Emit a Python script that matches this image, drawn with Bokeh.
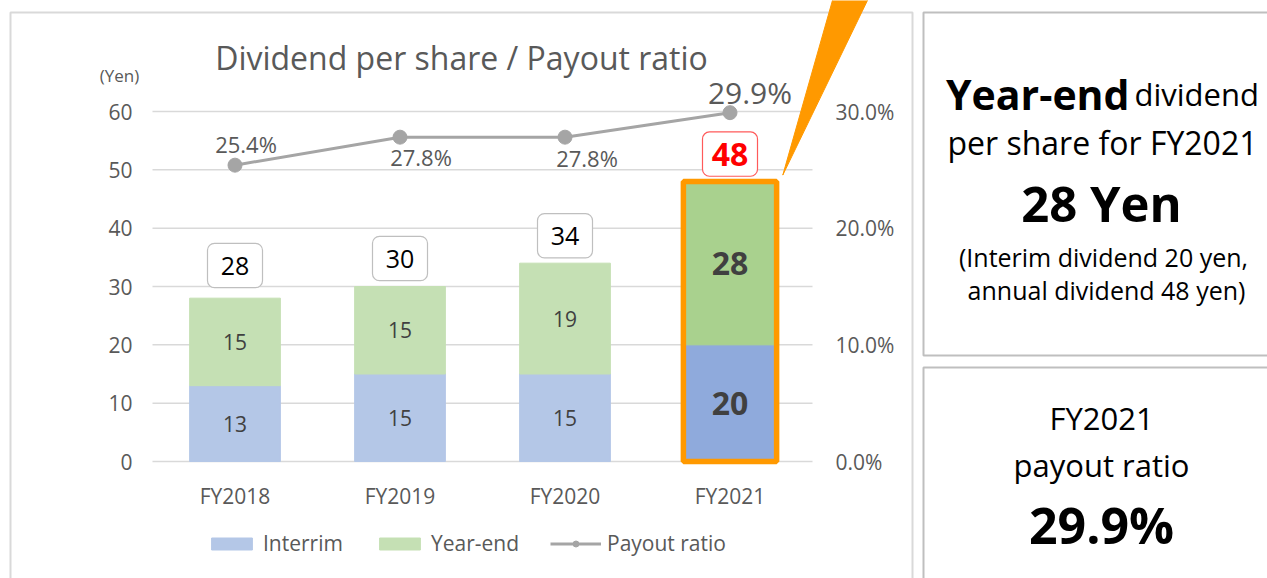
from bokeh.plotting import figure
from bokeh.models import (Range1d, LinearAxis, FixedTicker, NumeralTickFormatter,
                          Legend, LegendItem, ColumnDataSource)
from bokeh.core.properties import value
from bokeh.embed import file_html
from bokeh.resources import INLINE

# ---------------- data ----------------
years = ["FY2018", "FY2019", "FY2020", "FY2021"]
interim = [13, 15, 15, 20]
year_end = [15, 15, 19, 28]
payout_ratio = [25.4, 27.8, 27.8, 29.9]
yen_ticks = [0, 10, 20, 30, 40, 50, 60]
pct_ticks = [0, 10, 20, 30]
highlight = 3  # FY2021

# ---------------- styles ----------------
FONT = "Open Sans"
GRAY_TXT = "#595959"
DARK_TXT = "#404040"
ORANGE = "#FF9900"
interim_colors = ["#B4C7E7", "#B4C7E7", "#B4C7E7", "#8FAADC"]
yearend_colors = ["#C5E0B4", "#C5E0B4", "#C5E0B4", "#A9D18E"]
inner_sizes = ["21px", "21px", "21px", "32px"]
inner_styles = ["normal", "normal", "normal", "bold"]
box_line_colors = ["#BFBFBF", "#BFBFBF", "#BFBFBF", "#FF5A5A"]
box_text_colors = ["#000000", "#000000", "#000000", "#FF0000"]
box_text_sizes = ["25px", "25px", "25px", "32px"]
box_text_styles = ["normal", "normal", "normal", "bold"]
box_gap = [1.8, 1.0, 0.9, 0.9]
pct_label_dx = [11, 21, 22, 20]
pct_label_dy = [-21, 20, 21, -20]
pct_label_sizes = ["22px", "22px", "22px", "30px"]

W, H = 1267, 578
X0_PX, STEP_PX = 234.5, 165.0          # centre of first category, category step
Y0_PX, PX_PER_YEN = 461.0, 350.0 / 60  # baseline, scale

x_range = Range1d(-X0_PX / STEP_PX, (W - X0_PX) / STEP_PX)
y_range = Range1d(-(H - Y0_PX) / PX_PER_YEN, Y0_PX / PX_PER_YEN)

p = figure(width=W, height=H, x_range=x_range, y_range=y_range,
           output_backend="svg", toolbar_location=None,
           x_axis_location=None, y_axis_location=None,
           min_border=0, min_border_left=0, min_border_right=0,
           min_border_top=0, min_border_bottom=0,
           outline_line_color=None, background_fill_color="white",
           border_fill_color="white")
p.xgrid.grid_line_color = None
p.ygrid.grid_line_color = None
p.extra_x_ranges = {"px": Range1d(0, W)}
p.extra_y_ranges = {"px": Range1d(H, 0),
                    "pct": Range1d(y_range.start / 200.0, y_range.end / 200.0)}

PX = dict(x_range_name="px", y_range_name="px")

# panel frames
p.quad(left=[10], right=[912], top=[12], bottom=[600], fill_color="white",
       line_color="#D9D9D9", line_width=2, **PX)
p.quad(left=[923, 923], right=[1285, 1285], top=[12, 367], bottom=[355, 600],
       fill_color="white", line_color="#BFBFBF", line_width=2, **PX)

# gridlines from the tick list
n = len(years)
p.segment(x0=[-0.5] * len(yen_ticks), x1=[n - 0.5] * len(yen_ticks),
          y0=yen_ticks, y1=yen_ticks, line_color="#D9D9D9", line_width=1.5)

xs = list(range(n))
totals = [a + b for a, b in zip(interim, year_end)]
src = ColumnDataSource(dict(
    x=xs, interim=interim, year_end=year_end, total=totals,
    int_mid=[a / 2 for a in interim],
    ye_mid=[a + b / 2 for a, b in zip(interim, year_end)],
    int_txt=[str(v) for v in interim], ye_txt=[str(v) for v in year_end],
    tot_txt=[str(v) for v in totals],
    box_l=[v - 0.1667 for v in xs], box_r=[v + 0.1667 for v in xs],
    box_b=[t + g for t, g in zip(totals, box_gap)],
    box_t=[t + g + 7.6 for t, g in zip(totals, box_gap)],
    box_mid=[t + g + 3.8 for t, g in zip(totals, box_gap)],
    int_c=interim_colors, ye_c=yearend_colors,
    in_size=inner_sizes, in_style=inner_styles,
    bl_c=box_line_colors, bt_c=box_text_colors,
    bt_size=box_text_sizes, bt_style=box_text_styles,
))

BAR_W = 0.55
r_int = p.vbar(x="x", width=BAR_W, bottom=0, top="interim", source=src,
               fill_color="int_c", line_color="int_c")
r_ye = p.vbar(x="x", width=BAR_W, bottom="interim", top="total", source=src,
              fill_color="ye_c", line_color="ye_c")

# highlight outline on FY2021
p.vbar(x=[xs[highlight]], width=0.565, bottom=0, top=[totals[highlight]],
       fill_color=None, line_color=ORANGE, line_width=5.5)

# values inside bars
p.text(x="x", y="int_mid", text="int_txt", source=src, text_align="center",
       text_baseline="middle", text_font=value(FONT), text_font_size="in_size",
       text_font_style="in_style", text_color=DARK_TXT)
p.text(x="x", y="ye_mid", text="ye_txt", source=src, text_align="center",
       text_baseline="middle", text_font=value(FONT), text_font_size="in_size",
       text_font_style="in_style", text_color=DARK_TXT)

# total boxes
p.quad(left="box_l", right="box_r", bottom="box_b", top="box_t", source=src,
       fill_color="white", line_color="bl_c", line_width=1.2, border_radius=7)
p.text(x="x", y="box_mid", text="tot_txt", source=src, text_align="center",
       text_baseline="middle", text_font=value(FONT), text_font_size="bt_size",
       text_font_style="bt_style", text_color="bt_c")

# payout ratio line
pct_src = ColumnDataSource(dict(
    x=xs, y=[v / 100.0 for v in payout_ratio],
    txt=["%.1f%%" % v for v in payout_ratio],
    dx=pct_label_dx, dy=pct_label_dy, sz=pct_label_sizes))
r_line = p.line(x="x", y="y", source=pct_src, y_range_name="pct",
                line_color="#A5A5A5", line_width=3)
r_pts = p.scatter(x="x", y="y", source=pct_src, y_range_name="pct", size=14,
                  fill_color="#A5A5A5", line_color="#A5A5A5")
p.text(x="x", y="y", text="txt", source=pct_src, y_range_name="pct",
       x_offset="dx", y_offset="dy", text_align="center", text_baseline="middle",
       text_font=value(FONT), text_font_size="sz", text_color=GRAY_TXT)

# callout wedge anchored to the highlighted bar
hx = xs[highlight]
p.patch(x=[hx + 0.32, hx + 0.631, hx + 0.85],
        y=[totals[highlight] + 1.1, y_range.end + 1, y_range.end + 1],
        fill_color=ORANGE, line_color=ORANGE)

# axes
def style_axis(ax, standoff):
    ax.axis_line_color = None
    ax.major_tick_line_color = None
    ax.minor_tick_line_color = None
    ax.major_tick_in = 0
    ax.major_tick_out = 0
    ax.major_label_standoff = standoff
    ax.major_label_text_font = FONT
    ax.major_label_text_font_size = "21px"
    ax.major_label_text_color = GRAY_TXT

yax = LinearAxis(fixed_location=-0.5, ticker=FixedTicker(ticks=yen_ticks))
style_axis(yax, 20)
p.add_layout(yax, "left")

rax = LinearAxis(fixed_location=n - 0.5, y_range_name="pct",
                 ticker=FixedTicker(ticks=[t / 100.0 for t in pct_ticks]),
                 formatter=NumeralTickFormatter(format="0.0%"))
style_axis(rax, 23)
p.add_layout(rax, "right")

xax = LinearAxis(fixed_location=0, ticker=FixedTicker(ticks=xs),
                 major_label_overrides={i: y for i, y in enumerate(years)})
style_axis(xax, 20)
p.add_layout(xax, "below")

# titles
p.text(x=[461], y=[57], text=["Dividend per share / Payout ratio"],
       text_align="center", text_baseline="middle", text_font=value(FONT),
       text_font_size="32px", text_color=GRAY_TXT, **PX)
p.text(x=[119], y=[75], text=["(Yen)"], text_align="center",
       text_baseline="middle", text_font=value(FONT), text_font_size="17px",
       text_color=GRAY_TXT, **PX)

# legend
legend = Legend(items=[
    LegendItem(label="Interrim", renderers=[r_int], index=0),
    LegendItem(label="Year-end", renderers=[r_ye], index=0),
    LegendItem(label="Payout ratio", renderers=[r_line, r_pts]),
], orientation="horizontal", location=(206, 21), glyph_width=51,
    glyph_height=15, label_standoff=6, spacing=31, padding=0, margin=0,
    border_line_color=None, background_fill_alpha=0,
    label_text_font=FONT, label_text_font_size="21px",
    label_text_color=GRAY_TXT, label_height=20)
p.add_layout(legend)

# right-hand panels
p.text(x=[1129], y=[93], text=["Year-end"], text_align="right",
       text_baseline="alphabetic", text_font=value(FONT), text_font_size="41px",
       text_font_style="bold", text_color="#000000", **PX)
p.text(x=[1134], y=[93], text=["dividend"], text_align="left",
       text_baseline="alphabetic", text_font=value(FONT), text_font_size="31px",
       text_color="#000000", **PX)
p.text(x=[1102], y=[142], text=["per share for FY2021"], text_align="center",
       text_baseline="middle", text_font=value(FONT), text_font_size="32px",
       text_color="#000000", **PX)
p.text(x=[1101], y=[202], text=["28 Yen"], text_align="center",
       text_baseline="middle", text_font=value(FONT), text_font_size="49px",
       text_font_style="bold", text_color="#000000", **PX)
p.text(x=[1103, 1106], y=[256, 289],
       text=["(Interim dividend 20 yen,", "annual dividend 48 yen)"],
       text_align="center", text_baseline="middle", text_font=value(FONT),
       text_font_size="25px", text_color="#000000", **PX)
p.text(x=[1101, 1101], y=[417, 464], text=["FY2021", "payout ratio"],
       text_align="center", text_baseline="middle", text_font=value(FONT),
       text_font_size="31px", text_color="#000000", **PX)
p.text(x=[1101], y=[524], text=["29.9%"], text_align="center",
       text_baseline="middle", text_font=value(FONT), text_font_size="50px",
       text_font_style="bold", text_color="#000000", **PX)

open("out.html", "w").write(file_html(p, INLINE))
